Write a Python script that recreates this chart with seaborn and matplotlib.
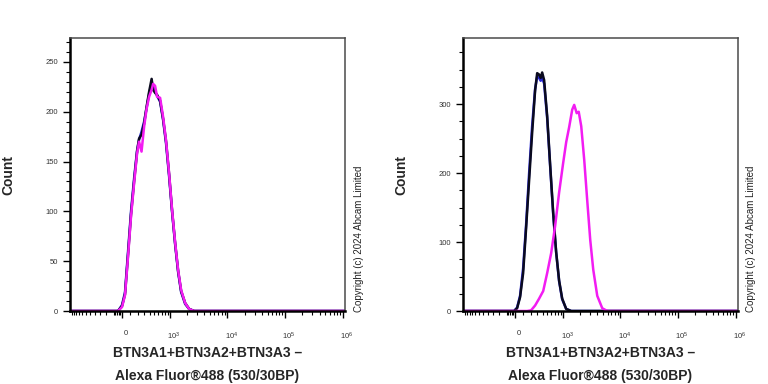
import numpy as np
import pandas as pd
import matplotlib
matplotlib.use("Agg")
import matplotlib.pyplot as plt
import matplotlib.transforms as mtransforms
from matplotlib.ticker import MultipleLocator, FixedLocator
import seaborn as sns

# ---- data ----
X_MIN, X_MAX = -1180, 1.1e6

left_x = [X_MIN, -123, -48, 0, 36, 73, 110, 150, 191, 220, 258, 300, 344, 391, 443,
          476, 521, 571, 653, 743, 844, 960, 1088, 1231, 1393, 1574, 1852, 2178, 2665, X_MAX]
left_black = [0, 0, 0, 5, 17, 57, 97, 130, 160, 173, 177, 188, 205, 220, 233,
              222, 219, 217, 211, 193, 170, 137, 100, 68, 40, 20, 8, 2, 0, 0]
left_blue = [0, 0, 0, 6, 19, 60, 100, 133, 161, 172, 180, 190, 204, 218, 228,
             226, 220, 216, 210, 192, 168, 135, 99, 67, 39, 19, 7, 2, 0, 0]
left_magenta = [0, 0, 0, 4, 16, 55, 95, 128, 158, 170, 160, 185, 203, 215, 222,
                228, 226, 215, 214, 195, 171, 138, 101, 69, 41, 21, 8, 2, 0, 0]

right_x = [X_MIN, -98, -12, 24, 60, 98, 136, 177, 220, 266, 300, 334, 362, 391, 431,
           498, 571, 653, 743, 844, 960, 1134, 1393, X_MAX]
right_black = [0, 0, 0, 4, 20, 55, 120, 190, 258, 320, 345, 343, 338, 346, 335,
               283, 212, 143, 86, 44, 18, 3, 0, 0]
right_blue = [0, 0, 0, 5, 22, 62, 125, 200, 268, 322, 340, 338, 334, 338, 330,
              280, 210, 141, 85, 43, 17, 3, 0, 0]
right_mag_x = [X_MIN, 150, 205, 266, 334, 412, 498, 598, 713, 844, 1001, 1134, 1283, 1451,
               1574, 1742, 1890, 2092, 2361, 2665, 3005, 3390, 3980, 4863, 5945, X_MAX]
right_magenta = [0, 0, 1, 8, 18, 29, 55, 84, 124, 172, 215, 245, 267, 292,
                 299, 287, 289, 268, 219, 160, 103, 60, 22, 4, 0, 0]

x_major = [0, 1e3, 1e4, 1e5, 1e6]
x_major_labels = ["0", "$10^3$", "$10^4$", "$10^5$", "$10^6$"]
xlabel = "BTN3A1+BTN3A2+BTN3A3 \u2013\nAlexa Fluor\u00ae488 (530/30BP)"
copyright_text = "Copyright (c) 2024 Abcam Limited"

colors = {"blue": "#2a2ad8", "black": "#0a0a1e", "magenta": "#f21cf2"}
order = ["blue", "black", "magenta"]

sns.set_style("ticks")
plt.rcParams["font.family"] = ["Liberation Sans", "DejaVu Sans"]
plt.rcParams["mathtext.default"] = "regular"


def fwd(x):
    return np.arcsinh(np.asarray(x, dtype=float) / 300.0)


def inv(y):
    return 300.0 * np.sinh(np.asarray(y, dtype=float))


def minor_ticks():
    t = [-k * 10 for k in range(2, 10, 2)] + [-k * 100 for k in range(1, 12)]
    t += [k * 100 for k in range(1, 10)]
    for dec in [1e3, 1e4, 1e5]:
        t += [k * dec for k in range(2, 10)]
    return t


def make_frame(series):
    parts = []
    for name, xs, ys in series:
        parts.append(pd.DataFrame({"intensity": xs, "count": ys, "sample": name}))
    return pd.concat(parts, ignore_index=True)


def draw_panel(fig, ax, df, ymax, ymajor, yminor):
    ax.set_xscale("function", functions=(fwd, inv))
    sns.lineplot(data=df, x="intensity", y="count", hue="sample", hue_order=order,
                 palette=colors, estimator=None, sort=False, legend=False,
                 linewidth=1.8, ax=ax)
    ax.set_xlim(X_MIN, X_MAX)
    ax.set_ylim(0, ymax)
    ax.xaxis.set_major_locator(FixedLocator(x_major))
    ax.set_xticklabels(x_major_labels)
    ax.xaxis.set_minor_locator(FixedLocator(minor_ticks()))
    ax.yaxis.set_major_locator(MultipleLocator(ymajor))
    ax.yaxis.set_minor_locator(MultipleLocator(yminor))
    ax.tick_params(axis="both", which="major", direction="out", length=5, width=1.0,
                   labelsize=5.5, labelcolor="#333333", color="black")
    ax.tick_params(axis="both", which="minor", direction="out", length=3, width=0.8,
                   color="black")
    ax.tick_params(axis="x", which="major", pad=9)
    # labels sit a little right of their ticks in the original
    shift = mtransforms.ScaledTranslation(4 / 100, 0, fig.dpi_scale_trans)
    for lab in ax.get_xticklabels():
        lab.set_transform(lab.get_transform() + shift)
    for side in ["left", "bottom"]:
        ax.spines[side].set_color("black")
        ax.spines[side].set_linewidth(1.8)
    for side in ["top", "right"]:
        ax.spines[side].set_color("#4a4a4a")
        ax.spines[side].set_linewidth(1.1)
    ax.set_xlabel(xlabel, fontsize=10, fontweight="bold", linespacing=1.8, labelpad=3)
    ax.set_ylabel("Count", fontsize=10, fontweight="bold")
    ax.yaxis.set_label_coords(-0.2, 0.5)


fig = plt.figure(figsize=(7.68, 3.84), dpi=100)
ax1 = fig.add_axes([0.0911, 0.1901, 0.3581, 0.7109])
ax2 = fig.add_axes([0.6029, 0.1901, 0.3581, 0.7109])

df_left = make_frame([("blue", left_x, left_blue),
                      ("black", left_x, left_black),
                      ("magenta", left_x, left_magenta)])
df_right = make_frame([("blue", right_x, right_blue),
                       ("black", right_x, right_black),
                       ("magenta", right_mag_x, right_magenta)])

draw_panel(fig, ax1, df_left, 274, 50, 10)
draw_panel(fig, ax2, df_right, 396, 100, 25)

fig.text(0.468, 0.187, copyright_text, rotation=90, ha="center", va="bottom",
         fontsize=7, color="#222222")
fig.text(0.978, 0.187, copyright_text, rotation=90, ha="center", va="bottom",
         fontsize=7, color="#222222")

fig.savefig("out.png", dpi=100)
